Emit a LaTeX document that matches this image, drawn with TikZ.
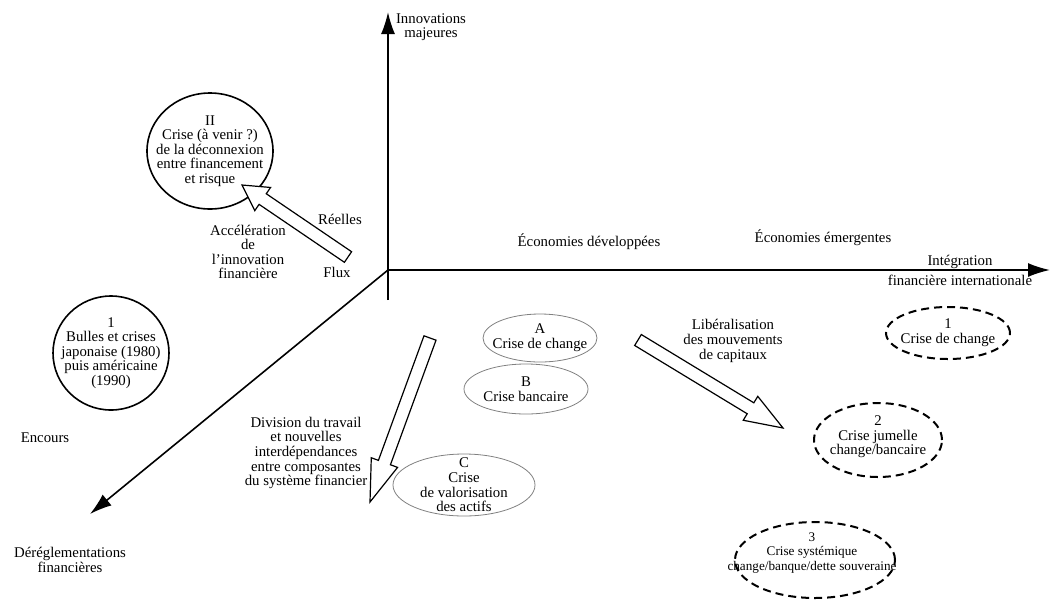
\documentclass[tikz,border=0pt]{standalone}
\usepackage{fontspec}
\setmainfont{Liberation Serif}
\usepackage{tikz}
\usetikzlibrary{positioning,arrows.meta,calc}

\newcommand{\lblfont}{\fontsize{7.4}{7.3}\selectfont}
% hollow block arrow: [head length]{from}{to}
\newcommand{\hollowarrow}[3][14pt]{%
  \coordinate (hb) at ($(#3)!#1!(#2)$);
  \draw[hollow] ($(#2)!3.2pt!90:(#3)$) -- ($(hb)!3.2pt!90:(#3)$)
    -- ($(hb)!7pt!90:(#3)$) -- (#3) -- ($(hb)!7pt!-90:(#3)$)
    -- ($(hb)!3.2pt!-90:(#3)$) -- ($(#2)!3.2pt!-90:(#3)$) -- cycle;}

\tikzset{
  axis/.style={line width=0.8pt, -{Latex[length=11pt,width=7pt]}},
  lbl/.style={font=\lblfont, align=center, inner sep=0pt},
  hollow/.style={draw, line width=0.6pt, fill=white, line join=miter},
  crisis/.style={draw, line width=0.8pt},
  faint/.style={draw=gray, line width=0.4pt},
  emerging/.style={draw, line width=1pt, dash pattern=on 4pt off 2.5pt}
}

\begin{document}
\begin{tikzpicture}[x=0.5pt, y=-0.5pt]
  \useasboundingbox (0,0) rectangle (1051,601);
  % axes
  \coordinate (O) at (388,270);
  \coordinate (ybot) at (388,300);
  \coordinate (ytip) at (388,12);
  \coordinate (xtip) at (1050,270);
  \coordinate (ztip) at (90,514);
  \draw[axis] (ybot) -- (ytip);
  \draw[axis] (O) -- (xtip);
  \draw[axis] (O) -- (ztip);
  \node[lbl] (ylbl) at (431,27) {Innovations\\majeures};
  \node[lbl] (xlbla) at (960,262) {Intégration};
  \node[lbl] (xlblb) at (960,280) {financière internationale};
  \node[lbl] (zlbl) at (70,560) {Déréglementations\\financières};
  \node[lbl] (encours) at (45,438) {Encours};
  \node[lbl] (reelles) at (340,219) {Réelles};
  \node[lbl] (flux) at (337,272) {Flux};
  \node[lbl] (dev) at (589,242) {Économies développées};
  \node[lbl] (emg) at (823,238) {Économies émergentes};
  % crises
  \node[lbl] (crII) at (210,151)
    {II\\Crise (à venir ?)\\de la déconnexion\\entre financement\\et risque};
  \draw[crisis] (crII.center) ellipse [x radius=31.5pt, y radius=29pt];
  \node[lbl] (crI) at (111,353)
    {1\\Bulles et crises\\japonaise (1980)\\puis américaine\\(1990)};
  \draw[crisis] (crI.center) ellipse [x radius=29pt, y radius=28.5pt];
  \node[lbl] (crA) at (540,338) {A\\Crise de change};
  \draw[faint] (crA.center) ellipse [x radius=28.5pt, y radius=12pt];
  \node[lbl] (crB) at (526,389) {B\\Crise bancaire};
  \draw[faint] (crB.center) ellipse [x radius=31pt, y radius=12.5pt];
  \node[lbl] (crC) at (464,485) {C\\Crise\\de valorisation\\des actifs};
  \draw[faint] (crC.center) ellipse [x radius=35.5pt, y radius=15.5pt];
  \node[lbl] (em1) at (948,333) {1\\Crise de change};
  \draw[emerging] (em1.center) ellipse [x radius=31pt, y radius=13pt];
  \node[lbl] (em2) at (878,437) {2\\Crise jumelle\\change/bancaire};
  \draw[emerging] ([yshift=-1.5pt]em2.center) ellipse [x radius=32pt, y radius=18.5pt];
  \node[lbl, font=\fontsize{6.6}{7.3}\selectfont] (em3) at (812,553)
    {3\\Crise systémique\\change/banque/dette souveraine};
  \draw[emerging] ([xshift=1.5pt,yshift=-3.5pt]em3.center) ellipse [x radius=40pt, y radius=19pt];
  % block arrows
  \coordinate (accA) at (348,257);
  \coordinate (accB) at (242,185);
  \hollowarrow[12.5pt]{accA}{accB}
  \node[lbl] (accel) at (248,252) {Accélération\\de\\l'innovation\\financière};
  \coordinate (divA) at (430,338);
  \coordinate (divB) at (370,502);
  \hollowarrow[21pt]{divA}{divB}
  \node[lbl] (division) at (306,453)
    {Division du travail\\et nouvelles\\interdépendances\\entre composantes\\du système financier};
  \coordinate (libA) at (638,340);
  \coordinate (libB) at (783,428);
  \hollowarrow[19pt]{libA}{libB}
  \node[lbl] (liber) at (733,341) {Libéralisation\\des mouvements\\de capitaux};
\end{tikzpicture}
\end{document}
